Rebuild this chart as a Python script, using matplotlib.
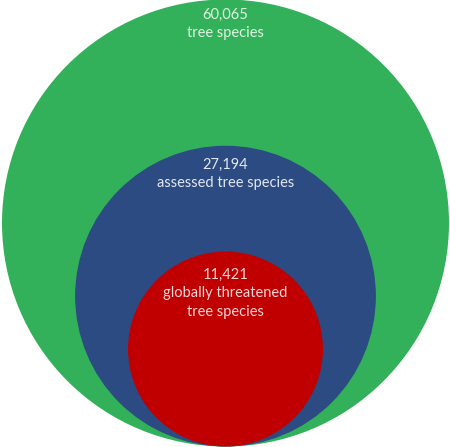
import numpy as np
import matplotlib
matplotlib.use("Agg")
import matplotlib.pyplot as plt
from matplotlib.patches import Circle

# data
counts = [60065, 27194, 11421]
labels = ["tree species", "assessed tree species", "globally threatened\ntree species"]
fills = ["#33b15a", "#2b4b82", "#c00000"]
text_colors = ["#dff3e2", "#e2e7f0", "#f6d6d6"]

W, H = 450, 447
fig = plt.figure(figsize=(W / 100, H / 100), dpi=100)
ax = fig.add_axes([0, 0, 1, 1])
ax.set_xlim(0, W)
ax.set_ylim(H, 0)
ax.set_aspect("equal")
ax.axis("off")

R_max = 223.5
cx = 225.5
bottom = 446.5
offsets = [8, 12, 16]

for n, lab, fc, tc, off in zip(counts, labels, fills, text_colors, offsets):
    r = R_max * np.sqrt(n / max(counts))
    cy = bottom - r
    ax.add_patch(Circle((cx, cy), r, facecolor=fc, edgecolor="none"))
    top = cy - r
    ax.text(cx, top + off, f"{n:,}\n{lab}", ha="center", va="top",
            fontsize=10.5, color=tc, family="Lato", linespacing=1.42)

fig.savefig("out.png", dpi=100, facecolor="white")
